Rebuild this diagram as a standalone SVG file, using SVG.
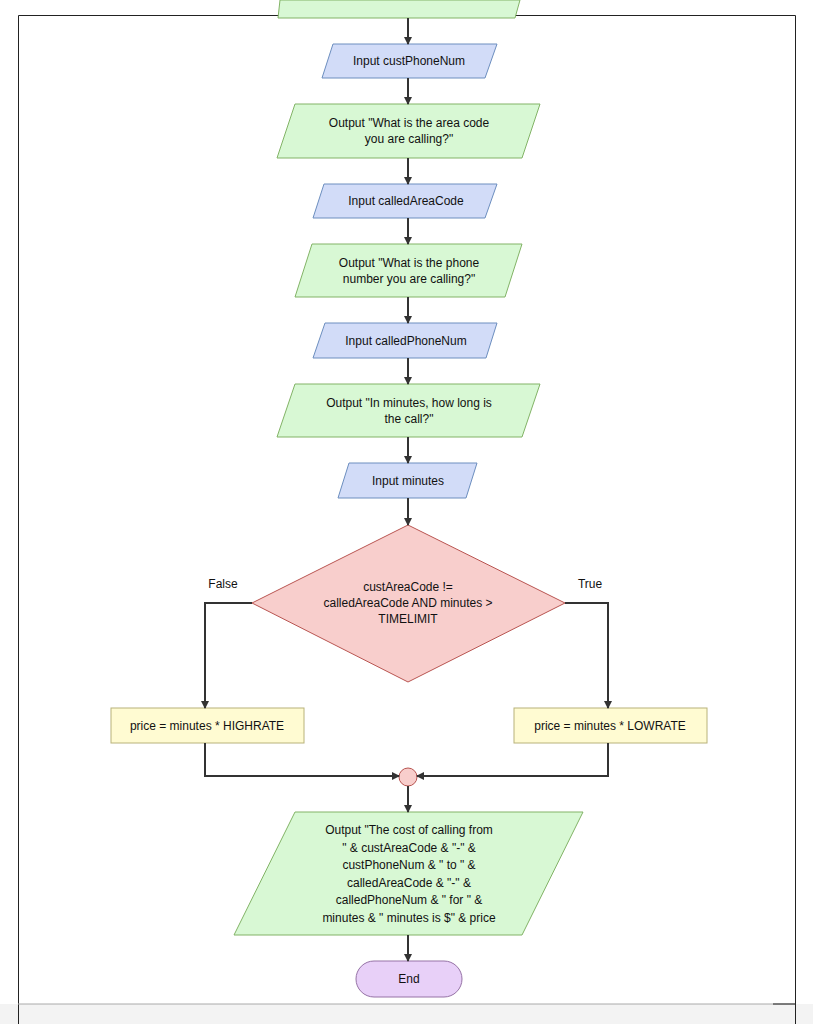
<svg xmlns="http://www.w3.org/2000/svg" width="813" height="1024" viewBox="0 0 813 1024">
<style>
text{font-family:"Liberation Sans",Arial,sans-serif;font-size:12px;fill:#111;text-anchor:middle}
.g{fill:#d8f8d4;stroke:#82b366;stroke-width:1}
.b{fill:#d2dcf8;stroke:#6c8ebf;stroke-width:1}
.y{fill:#fffbd2;stroke:#b8b27a;stroke-width:1}
.c{fill:none;stroke:#333;stroke-width:2}
</style>
<defs><marker id="a" markerWidth="8" markerHeight="8" refX="7" refY="4" orient="auto" markerUnits="userSpaceOnUse"><path d="M0,0 L8,4 L0,8 z" fill="#333"/></marker></defs>
<rect x="0" y="0" width="813" height="1024" fill="#fff"/>
<rect x="0" y="1004" width="813" height="20" fill="#f3f3f3"/>
<path d="M18.5,15.5 H795.5 V1024 M18.5,15.5 V1024" fill="none" stroke="#222" stroke-width="1"/>
<line x1="18" y1="1004" x2="795" y2="1004" stroke="#aaa"/>
<line x1="773" y1="1004" x2="795" y2="1004" stroke="#222"/>
<g id="top"><polygon class="g" points="280,0 520,0 515,18 278,18"/></g>
<g id="n1"><polygon class="b" points="333,44 497,44 485,78 322,78"/><text x="409" y="65">Input custPhoneNum</text></g>
<g id="n2"><polygon class="g" points="295,104 540,104 522,158 277,158"/><text x="409" y="127">Output "What is the area code</text><text x="409" y="143">you are calling?"</text></g>
<g id="n3"><polygon class="b" points="324,184 497,184 485,218 313,218"/><text x="406" y="205">Input calledAreaCode</text></g>
<g id="n4"><polygon class="g" points="312,244 522,244 505,297 295,297"/><text x="409" y="267">Output "What is the phone</text><text x="409" y="283">number you are calling?"</text></g>
<g id="n5"><polygon class="b" points="325,323 497,323 486,358 313,358"/><text x="406" y="345">Input calledPhoneNum</text></g>
<g id="n6"><polygon class="g" points="295,384 540,384 522,437 277,437"/><text x="409" y="407">Output "In minutes, how long is</text><text x="409" y="423">the call?"</text></g>
<g id="n7"><polygon class="b" points="349,463 477,463 466,498 338,498"/><text x="408" y="485">Input minutes</text></g>
<g id="d"><polygon points="408,525 565,603 408,682 252,603" fill="#f8cecc" stroke="#b85450"/><text x="408" y="591">custAreaCode !=</text><text x="408" y="607">calledAreaCode AND minutes &gt;</text><text x="408" y="623">TIMELIMIT</text></g>
<g id="hi"><rect class="y" x="111" y="708" width="193" height="35"/><text x="207" y="730">price = minutes * HIGHRATE</text></g>
<g id="lo"><rect class="y" x="514" y="708" width="193" height="35"/><text x="610" y="730">price = minutes * LOWRATE</text></g>
<g id="j"><circle cx="408" cy="777" r="9" fill="#f8cecc" stroke="#b85450"/></g>
<g id="out"><polygon class="g" points="295,812 583,812 522,935 234,935"/>
<text x="409" y="834">Output "The cost of calling from</text><text x="409" y="852">" &amp; custAreaCode &amp; "-" &amp;</text><text x="409" y="869">custPhoneNum &amp; " to " &amp;</text><text x="409" y="887">calledAreaCode &amp; "-" &amp;</text><text x="409" y="904">calledPhoneNum &amp; " for " &amp;</text><text x="409" y="922">minutes &amp; " minutes is $" &amp; price</text></g>
<g id="end"><rect x="356" y="961" width="106" height="36" rx="18" fill="#e8d0f8" stroke="#9673a6"/><text x="409" y="983">End</text></g>
<g id="connectors">
<path class="c" marker-end="url(#a)" d="M408,18 V44"/>
<path class="c" marker-end="url(#a)" d="M408,78 V104"/>
<path class="c" marker-end="url(#a)" d="M408,158 V184"/>
<path class="c" marker-end="url(#a)" d="M408,218 V244"/>
<path class="c" marker-end="url(#a)" d="M408,297 V323"/>
<path class="c" marker-end="url(#a)" d="M408,358 V384"/>
<path class="c" marker-end="url(#a)" d="M408,437 V463"/>
<path class="c" marker-end="url(#a)" d="M408,498 V525"/>
<path class="c" marker-end="url(#a)" d="M252,603 H205 V708"/>
<path class="c" marker-end="url(#a)" d="M565,603 H608 V708"/>
<path class="c" marker-end="url(#a)" d="M205,743 V776 H399"/>
<path class="c" marker-end="url(#a)" d="M608,743 V776 H417"/>
<path class="c" marker-end="url(#a)" d="M408,786 V812"/>
<path class="c" marker-end="url(#a)" d="M408,935 V961"/>
<text x="223" y="588">False</text><text x="590" y="588">True</text>
</g>
</svg>
